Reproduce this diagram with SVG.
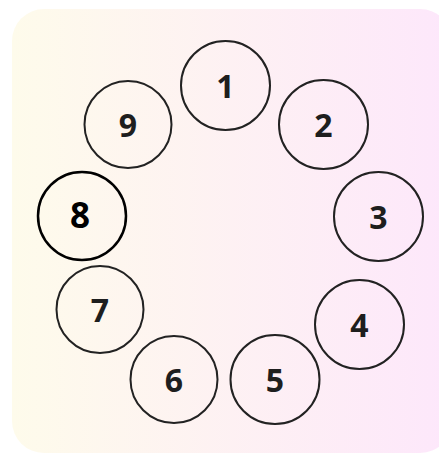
<svg xmlns="http://www.w3.org/2000/svg" width="439" height="454" viewBox="0 0 439 454">
<defs>
<linearGradient id="bg" x1="0" y1="0" x2="1" y2="0">
<stop offset="0" stop-color="#fefbeb"/>
<stop offset="1" stop-color="#fde7fb"/>
</linearGradient>
<style>
.n circle{fill:none;stroke:#222;stroke-width:2}
.n text{font-family:"Open Sans","Noto Sans",sans-serif;font-weight:700;font-size:32px;fill:#1e1e1e;text-anchor:middle}
#n8 circle{stroke:#000;stroke-width:2.5}
#n8 text{font-size:35px;fill:#000}
</style>
</defs>
<rect x="12" y="9" width="440" height="444" rx="32" fill="url(#bg)"/>
<g id="connectors"></g>
<g id="n1" class="n"><circle cx="225.5" cy="85.5" r="44.5"/><text x="225.5" y="97.5">1</text></g>
<g id="n2" class="n"><circle cx="323.5" cy="124.5" r="44.5"/><text x="323.5" y="136.5">2</text></g>
<g id="n3" class="n"><circle cx="378.5" cy="216.5" r="44.5"/><text x="378.5" y="228.5">3</text></g>
<g id="n4" class="n"><circle cx="359.5" cy="324.5" r="44.5"/><text x="359.5" y="336.5">4</text></g>
<g id="n5" class="n"><circle cx="275" cy="379.5" r="44.5"/><text x="275" y="391.5">5</text></g>
<g id="n6" class="n"><circle cx="174" cy="379.5" r="43.5"/><text x="174" y="391.5">6</text></g>
<g id="n7" class="n"><circle cx="100" cy="309.5" r="43.5"/><text x="100" y="321.5">7</text></g>
<g id="n8" class="n"><circle cx="82" cy="216" r="44"/><text x="80" y="227.5">8</text></g>
<g id="n9" class="n"><circle cx="128" cy="124.5" r="43.5"/><text x="128" y="136.5">9</text></g>
</svg>
